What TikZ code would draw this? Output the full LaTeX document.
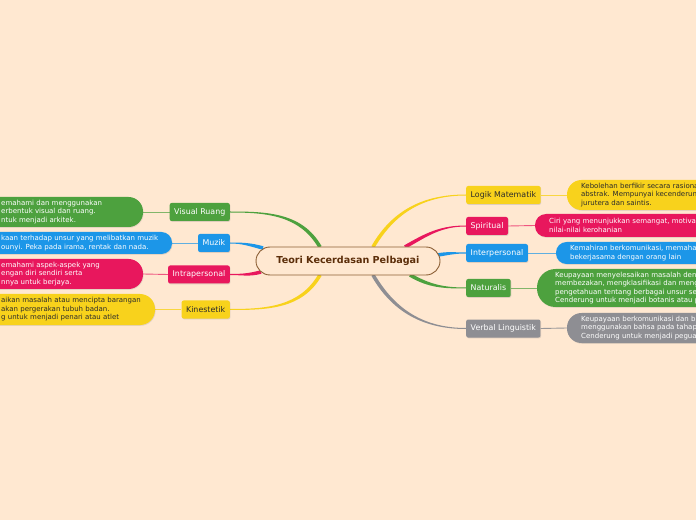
\documentclass[tikz,border=0pt]{standalone}
\usepackage{fontspec}
\setmainfont{DejaVu Sans}
\usetikzlibrary{calc,backgrounds,shadows}
\definecolor{bgc}{HTML}{FFE8D1}
\definecolor{cgreen}{HTML}{4DA13E}
\definecolor{cblue}{HTML}{1C96E8}
\definecolor{cpink}{HTML}{E8175D}
\definecolor{cyellow}{HTML}{F8D21C}
\definecolor{cgray}{HTML}{8E8E93}
\definecolor{cbrown}{HTML}{8B5E34}
\definecolor{ctext}{HTML}{5C2E0A}
\definecolor{dtext}{HTML}{2B2B2B}
\newcommand\tconn[5]{%
  \fill[#5] ($(#1)+(#3+90:1.8)$) to[out=#3,in=#4] ($(#2)+(#4-90:0.5)$) --
    ($(#2)+(#4+90:0.5)$) to[out=#4,in=#3] ($(#1)+(#3-90:1.8)$) -- cycle;}
\begin{document}
\begin{tikzpicture}[x=1pt,y=1pt,
  lab/.style={rounded corners=2pt, minimum height=18pt, inner xsep=4.5pt, inner ysep=0pt,
    font=\fontsize{7.9}{9}\selectfont, text=white,
    drop shadow={shadow xshift=0.6pt, shadow yshift=-0.8pt, opacity=0.25}},
  dbox/.style={inner sep=0pt, drop shadow={shadow xshift=0.6pt, shadow yshift=-0.8pt, opacity=0.2}},
  dtxt/.style={inner sep=0pt, align=left, text=white, font=\fontsize{7}{8.5}\selectfont},
  link/.style={line width=0.9pt}]
\useasboundingbox (0,0) rectangle (696,520);
\clip (0,0) rectangle (696,520);
% central node
\node[draw=cbrown, line width=0.9pt, fill=bgc, rounded corners=14pt, minimum width=184pt,
  minimum height=28pt, font=\fontsize{9.6}{11}\selectfont\bfseries, text=ctext] (c) at (348,259)
  {Teori Kecerdasan Pelbagai};
% left labels
\node[lab, fill=cgreen, anchor=east] (vr) at (230,308) {Visual Ruang};
\node[lab, fill=cblue, anchor=east] (mz) at (230,277) {Muzik};
\node[lab, fill=cpink, anchor=east] (ip) at (230,245.5) {Intrapersonal};
\node[lab, fill=cyellow, text=dtext, anchor=east] (ks) at (230,210.5) {Kinestetik};
% right labels
\node[lab, fill=cyellow, text=dtext, anchor=west] (lm) at (466,325) {Logik Matematik};
\node[lab, fill=cpink, anchor=west] (sp) at (466,294) {Spiritual};
\node[lab, fill=cblue, anchor=west] (it) at (466,267) {Interpersonal};
\node[lab, fill=cgreen, anchor=west] (nt) at (466,232) {Naturalis};
\node[lab, fill=cgray, anchor=west] (vl) at (466,191.5) {Verbal Linguistik};
% left description boxes
\node[dbox, fill=cgreen, rounded corners=14.5pt, minimum width=203pt, minimum height=30pt] (dvr) at (41.5,308) {};
\node[dbox, fill=cblue, rounded corners=10.5pt, minimum width=232pt, minimum height=22pt] (dmz) at (56,277) {};
\node[dbox, fill=cpink, rounded corners=14.5pt, minimum width=203pt, minimum height=30pt] (dip) at (41.5,246) {};
\node[dbox, fill=cyellow, rounded corners=15pt, minimum width=215pt, minimum height=31pt] (dks) at (47.5,210.5) {};
% right description boxes
\node[dbox, fill=cyellow, rounded corners=14.5pt, minimum width=193pt, minimum height=30pt] (dlm) at (663.5,325) {};
\node[dbox, fill=cpink, rounded corners=11pt, minimum width=225pt, minimum height=23pt] (dsp) at (647.5,294.5) {};
\node[dbox, fill=cblue, rounded corners=10.5pt, minimum width=204pt, minimum height=22pt] (dit) at (658,267) {};
\node[dbox, fill=cgreen, rounded corners=18.5pt, minimum width=223pt, minimum height=38pt] (dnt) at (648.5,232) {};
\node[dbox, fill=cgray, rounded corners=14.5pt, minimum width=193pt, minimum height=30pt] (dvl) at (663.5,192) {};
% description texts
\node[dtxt, anchor=west] (tvr) at (1,308) {emahami dan menggunakan\\erbentuk visual dan ruang.\\ntuk menjadi arkitek.};
\node[dtxt, anchor=west] (tmz) at (1,277) {kaan terhadap unsur yang melibatkan muzik\\ounyi. Peka pada irama, rentak dan nada.};
\node[dtxt, anchor=west] (tip) at (1,246) {emahami aspek-aspek yang\\engan diri sendiri serta\\nnya untuk berjaya.};
\node[dtxt, anchor=west, text=dtext] (tks) at (1,210.5) {aikan masalah atau mencipta barangan\\akan pergerakan tubuh badan.\\g untuk menjadi penari atau atlet};
\node[dtxt, anchor=west, text=dtext] (tlm) at (581,325) {Kebolehan berfikir secara rasiona\\abstrak. Mempunyai kecenderun\\jurutera dan saintis.};
\node[dtxt, anchor=west] (tsp) at (549,294.5) {Ciri yang menunjukkan semangat, motiva\\nilai-nilai kerohanian};
\node[dtxt, anchor=west] (tit) at (570,267) {Kemahiran berkomunikasi, memaha\\bekerjasama dengan orang lain};
\node[dtxt, anchor=west] (tnt) at (555,232) {Keupayaan menyelesaikan masalah den\\membezakan, mengklasifikasi dan meng\\pengetahuan tentang berbagai unsur se\\Cenderung untuk menjadi botanis atau p};
\node[dtxt, anchor=west] (tvl) at (581,192) {Keupayaan berkomunikasi dan b\\menggunakan bahsa pada tahap\\Cenderung untuk menjadi pegua};
% start points on central node
\coordinate (s-vr) at (320,273);
\coordinate (s-mz) at (263,272);
\coordinate (s-ip) at (261,248);
\coordinate (s-ks) at (320,245);
\coordinate (s-lm) at (373,273);
\coordinate (s-sp) at (405,273);
\coordinate (s-it) at (438,265);
\coordinate (s-nt) at (410,245);
\coordinate (s-vl) at (373,245);
\begin{scope}[on background layer]
  \fill[bgc] (0,0) rectangle (696,520);
  \tconn{s-vr}{vr.east}{120}{0}{cgreen}
  \tconn{s-mz}{mz.east}{165}{0}{cblue}
  \tconn{s-ip}{ip.east}{195}{0}{cpink}
  \tconn{s-ks}{ks.east}{240}{0}{cyellow}
  \tconn{s-lm}{lm.west}{60}{180}{cyellow}
  \tconn{s-sp}{sp.west}{30}{180}{cpink}
  \tconn{s-it}{it.west}{10}{180}{cblue}
  \tconn{s-nt}{nt.west}{-30}{180}{cgreen}
  \tconn{s-vl}{vl.west}{-60}{180}{cgray}
  \draw[link, cgreen!70!bgc] (dvr.east) -- (vr.west);
  \draw[link, cblue!70!bgc] (dmz.east) -- (mz.west);
  \draw[link, cpink!70!bgc] (dip.east) -- (ip.west);
  \draw[link, cyellow!80!bgc] (dks.east) -- (ks.west);
  \draw[link, cyellow!80!bgc] (lm.east) -- (dlm.west);
  \draw[link, cpink!70!bgc] (sp.east) -- (dsp.west);
  \draw[link, cblue!70!bgc] (it.east) -- (dit.west);
  \draw[link, cgreen!70!bgc] (nt.east) -- (dnt.west);
  \draw[link, cgray!90!bgc] (vl.east) -- (dvl.west);
\end{scope}
\end{tikzpicture}
\end{document}
